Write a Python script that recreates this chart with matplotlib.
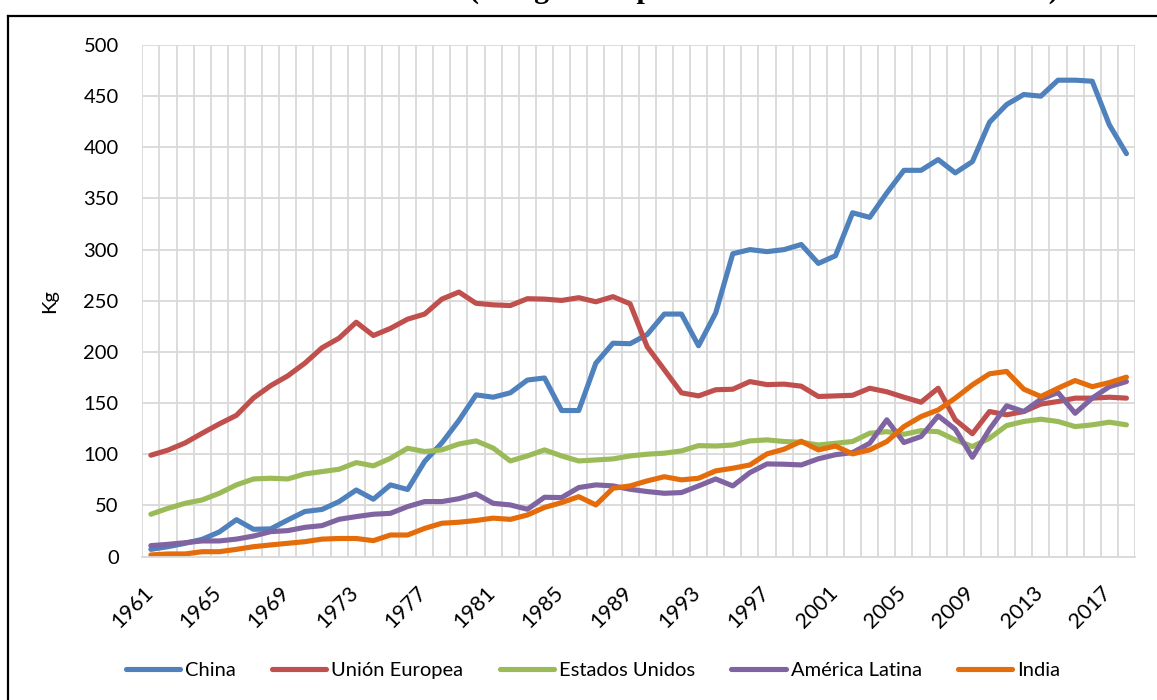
import matplotlib
matplotlib.use("Agg")
import numpy as np
import matplotlib.pyplot as plt
from matplotlib.lines import Line2D
import matplotlib.transforms as mtransforms

years = list(range(1961, 2019))
tick_years = list(range(1961, 2019, 4))

china = [7, 9.6, 12.9, 16.8, 24, 36, 26.6, 27, 35.7, 44, 46, 53.7, 65, 56, 70, 65.5,
         93, 111, 133, 158, 155.7, 160, 172.5, 174.5, 142.7, 142.7, 189, 208.5, 208, 217,
         237, 237, 206, 238, 296, 300, 298, 300, 305, 286.5, 294, 336, 331.5, 355.4,
         377.5, 377.5, 388, 375, 386, 424.5, 441.8, 451.6, 450, 465.6, 465.6, 464.6, 422, 393.8]
union_europea = [99, 104, 111, 120.5, 129.6, 138, 155, 167, 176.6, 189, 204, 213.5, 229, 216,
                 223, 232, 237, 251.6, 258.5, 247.5, 246, 245.3, 252, 251.6, 250.3, 253, 249,
                 254, 247, 205, 182.5, 160, 157, 163, 163.5, 171, 168, 168.5, 166.5, 156.4,
                 157, 157.6, 164.5, 161, 155.7, 150.8, 164.5, 133.6, 120, 141.7, 138.5, 141.7,
                 149, 151.5, 154.8, 154.8, 155.7, 154.8]
estados_unidos = [41.3, 47.1, 52, 55.3, 61.8, 70, 75.8, 76.5, 75.8, 80.7, 83, 85.3, 91.8, 88.6,
                  96, 105.8, 102.6, 104.2, 110, 113, 106, 93.4, 98.3, 104.2, 98.3, 93.4, 94.4,
                  95.4, 98.3, 100, 101, 103.2, 108.4, 108, 109, 113, 114, 112.4, 111.7, 109,
                  110.7, 112.4, 120.5, 122, 119.5, 123, 122, 114, 107.5, 115.6, 128, 132, 134.2,
                  132, 127, 128.7, 131.3, 128.7]
america_latina = [10.6, 11.9, 13.5, 15.2, 15.2, 17, 20, 24.3, 25.3, 28.5, 30.2, 36.4, 39, 41.3,
                  42.2, 48.8, 53.7, 53.7, 56.5, 61.2, 52, 50.4, 46.2, 57.9, 57.6, 67.4, 70, 69,
                  65.7, 63.5, 61.8, 62.5, 69, 75.8, 69, 82, 90.5, 90.2, 89.5, 95.5, 99.5, 101.6,
                  110.7, 133.6, 111.4, 117.3, 137.5, 124.4, 97, 124.4, 147.3, 141.7, 153.8, 160.3,
                  140, 154.8, 166, 171]
india = [1.5, 2.5, 2.5, 4.7, 4.7, 7, 9.6, 11.3, 12.9, 14.5, 17, 17.6, 17.6, 15.5, 21, 21, 27.5,
         32.5, 33.5, 35.2, 37.5, 36.3, 40.6, 48, 52.7, 58.5, 50.4, 66.7, 69, 73.9, 78, 74.9, 76.5,
         83.7, 86.3, 89.5, 100.3, 104.9, 112.7, 104.2, 108, 100.3, 104.2, 112.4, 127, 136.8,
         143.3, 154.8, 167.8, 178.6, 180.9, 163.6, 156.4, 164.5, 172, 166, 170, 175.3]

series = [
    ("China", china, "#4F81BD"),
    ("Unión Europea", union_europea, "#C0504D"),
    ("Estados Unidos", estados_unidos, "#9BBB59"),
    ("América Latina", america_latina, "#8064A2"),
    ("India", india, "#E46C0A"),
]

plt.rcParams['font.family'] = ['Lato', 'DejaVu Sans']

W, H = 1157, 700
fig = plt.figure(figsize=(W / 100, H / 100), dpi=100)
ax = fig.add_axes([142.3 / W, (H - 556.5) / H, (1135 - 142.3) / W, (556.5 - 45) / H])

for name, vals, color in series:
    ax.plot(years, vals, color=color, lw=3.7, label=name,
            solid_capstyle='round', solid_joinstyle='round')

ax.set_xlim(1960.5, 2018.5)
ax.set_ylim(0, 500)
ax.set_yticks(np.arange(0, 501, 50))
ax.set_xticks(np.arange(1960.5, 2019, 1), minor=True)
ax.set_xticks(tick_years)
ax.set_xticklabels([str(y) for y in tick_years], rotation=45, ha='right', va='top')
ax.grid(True, which='minor', axis='x', color='#D9D9D9', lw=1.3)
ax.grid(True, which='major', axis='y', color='#D9D9D9', lw=1.3)
ax.set_axisbelow(True)
ax.tick_params(axis='both', which='both', length=0, labelsize=14.5, colors='black')
ax.tick_params(axis='x', labelsize=15.5, pad=19)
ax.tick_params(axis='y', pad=17)
offset = mtransforms.ScaledTranslation(6 / 100, 0, fig.dpi_scale_trans)
for lab in ax.get_xticklabels():
    lab.set_transform(lab.get_transform() + offset)
for s in ['left', 'right', 'top']:
    ax.spines[s].set_visible(False)
ax.spines['bottom'].set_color('#D9D9D9')
ax.spines['bottom'].set_linewidth(1.3)

ax.set_ylabel("Kg", fontsize=14.5)
ax.yaxis.set_label_coords((58 - 142.3) / (1135 - 142.3), 0.5)

fig.legend(loc='center', bbox_to_anchor=(593 / W, 1 - 670 / H), ncol=5, frameon=False,
           fontsize=14.5, handlelength=2.7, handletextpad=0.25, columnspacing=1.8)

# outer frame (only top and left edges are visible)
fig.add_artist(Line2D([8 / W, 8 / W], [0, 1 - 16 / H], transform=fig.transFigure,
                      color='black', lw=1.6))
fig.add_artist(Line2D([8 / W, 1], [1 - 16 / H, 1 - 16 / H], transform=fig.transFigure,
                      color='black', lw=1.6))

# title cut off at the top edge, as in the original
fig.text(469 / W, 1 + 2 / H, "(Kilogramos por hectárea de tierra cultivable)",
         ha='left', va='baseline', fontsize=21.6, fontweight='bold',
         family=['Liberation Serif', 'DejaVu Serif'])

fig.savefig("out.png", dpi=100)
